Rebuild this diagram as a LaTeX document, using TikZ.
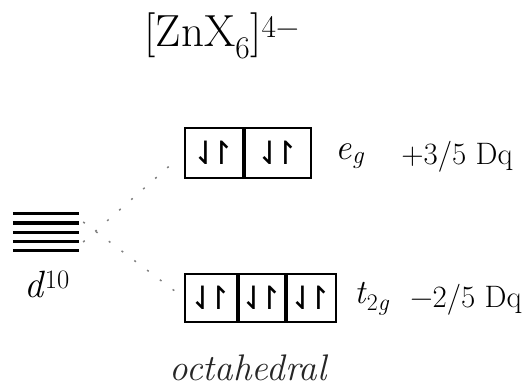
\documentclass[tikz,border=0pt]{standalone}
\usepackage{fontspec}
\newfontfamily\arrowfont{DejaVu Sans}
\usetikzlibrary{positioning}
\newcommand{\spinpair}{{\arrowfont ⇃\kern-0.32em↾}}
\begin{document}
\begin{tikzpicture}[x=1pt,y=-1pt,
  cellbox/.style={draw,line width=1.8pt,minimum height=50pt,inner sep=0pt,font=\fontsize{32}{32}\selectfont},
  lbl/.style={font=\fontsize{31}{31}\selectfont}]
\useasboundingbox (0,0) rectangle (527,387);
\node[font=\fontsize{45}{45}\selectfont] (title) at (222,36) {[ZnX\textsubscript{6}]\textsuperscript{4−}};
% degenerate d levels
\node[minimum width=66pt,minimum height=40pt,inner sep=0pt] (dlev) at (46,232) {};
\foreach \k in {0,...,4}
  \draw[line width=3.2pt] ([yshift=-\k*9.2pt-2pt]dlev.north west) -- ([yshift=-\k*9.2pt-2pt]dlev.north east);
\node[font=\fontsize{38}{38}\selectfont] (dten) at (47,284) {\textit{d}\textsuperscript{10}};
% e_g set
\node[cellbox,minimum width=58pt] (eg1) at (214,153) {\spinpair};
\node[cellbox,minimum width=66pt,right=0pt of eg1] (eg2) {\spinpair};
\node[font=\fontsize{36}{36}\selectfont] (eglab) at (350,156) {\textit{e\textsubscript{g}}};
\node[lbl] (egval) at (457,157) {+3/5 Dq};
% t_2g set
\node[cellbox,minimum width=52pt,minimum height=48pt] (t1) at (211,298) {\spinpair};
\node[cellbox,minimum width=46pt,minimum height=48pt,right=0pt of t1] (t2) {\spinpair};
\node[cellbox,minimum width=49pt,minimum height=48pt,right=0pt of t2] (t3) {\spinpair};
\node[font=\fontsize{34}{34}\selectfont] (tlab) at (372,299) {\textit{t}\textsubscript{2\textit{g}}};
\node[lbl] (tval) at (466,300) {−2/5 Dq};
% splitting lines
\draw[gray,line width=1.5pt,dash pattern=on 2pt off 14pt,shorten >=8pt] ([shift={(4pt,-10pt)}]dlev.east) -- (eg1.west);
\draw[gray,line width=1.5pt,dash pattern=on 2pt off 14pt,shorten >=8pt] ([shift={(4pt,10pt)}]dlev.east) -- (t1.west);
\node[font=\fontsize{37}{37}\selectfont\itshape,text=black!85] (geom) at (248,368) {octahedral};
\end{tikzpicture}
\end{document}
